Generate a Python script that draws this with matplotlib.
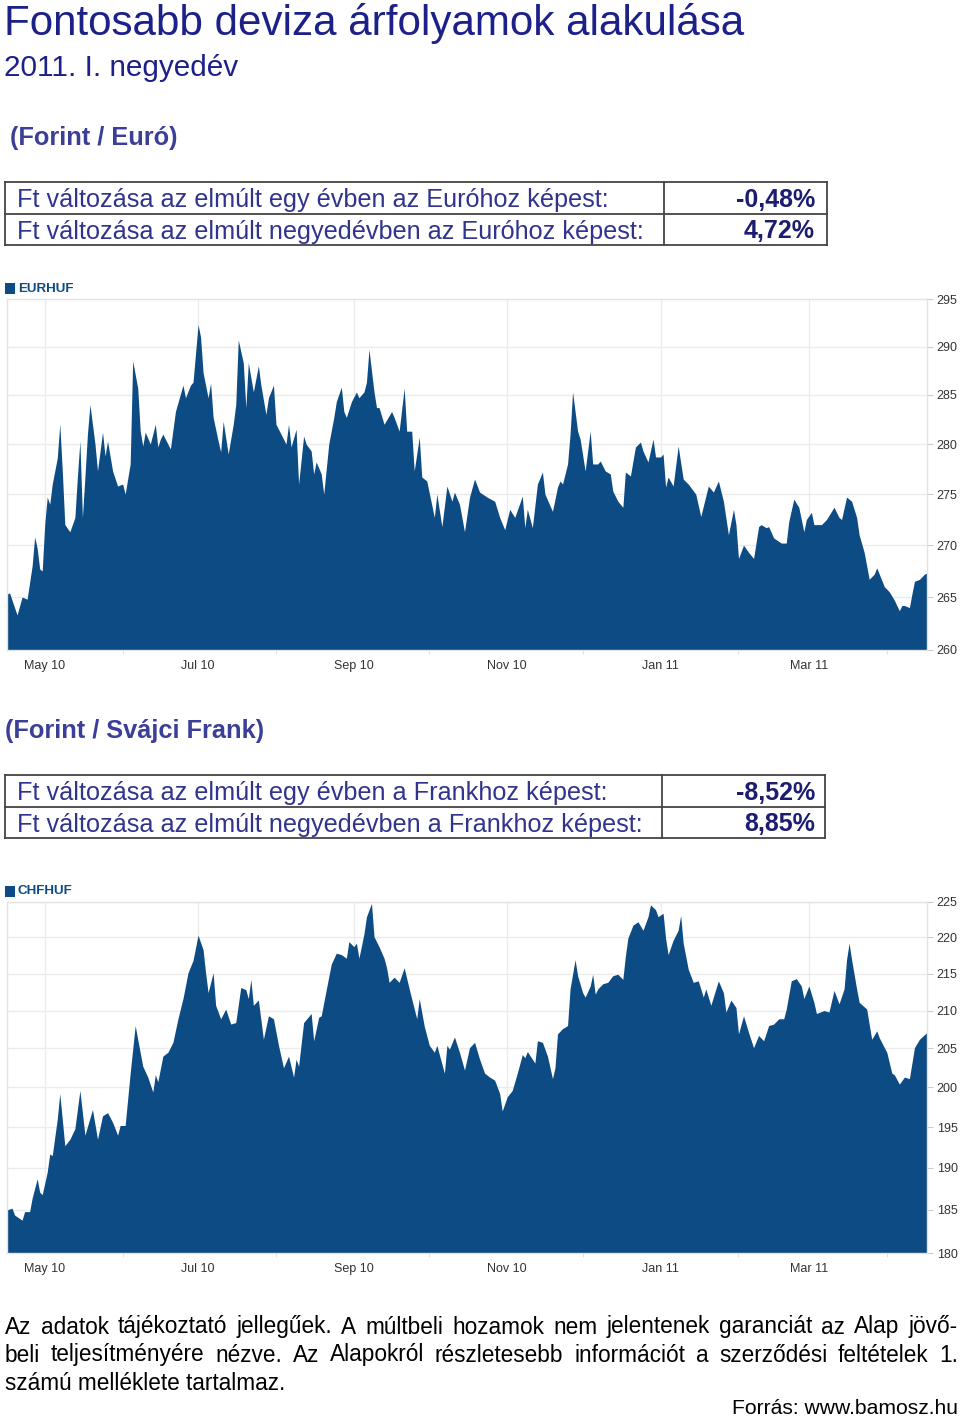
import numpy as np
import matplotlib
matplotlib.use("Agg")
import matplotlib.pyplot as plt
import matplotlib.dates as mdates
import matplotlib.ticker as mticker
from matplotlib.patches import Rectangle
from matplotlib.lines import Line2D

plt.rcParams['font.family'] = ['Liberation Sans', 'DejaVu Sans']

# ================= data =================
START = np.datetime64('2010-04-16')
SPAN_DAYS = 366

eur_days = [0, 1, 4, 6, 8, 10, 11, 12, 13, 14, 15, 16, 17, 18, 20, 21, 22, 23, 25, 27,
            28, 29, 30, 31, 32, 33, 35, 36, 38, 39, 40, 42, 44, 46, 47, 49, 50, 52, 53, 54,
            55, 57, 59, 60, 61, 62, 65, 67, 70, 71, 73, 74, 76, 77, 78, 80, 81, 82, 84, 85,
            86, 88, 90, 91, 92, 94, 95, 96, 98, 100, 101, 103, 104, 106, 107, 109, 111, 112, 113, 115,
            116, 118, 119, 121, 122, 123, 125, 126, 128, 130, 131, 133, 134, 135, 137, 139, 140, 142, 143, 144,
            146, 147, 148, 150, 153, 154, 156, 158, 159, 161, 162, 164, 165, 167, 170, 171, 173, 175, 177, 178,
            180, 182, 184, 186, 188, 191, 194, 196, 198, 200, 202, 205, 206, 207, 209, 211, 213, 214, 217, 219,
            220, 221, 223, 224, 225, 227, 228, 230, 232, 233, 235, 236, 238, 240, 241, 243, 245, 246, 248, 250,
            252, 253, 255, 257, 258, 260, 261, 262, 263, 265, 267, 269, 271, 274, 276, 278, 279, 281, 283, 285,
            287, 289, 290, 291, 293, 295, 297, 299, 300, 302, 303, 305, 308, 310, 311, 313, 315, 317, 318, 320,
            321, 324, 326, 329, 331, 332, 334, 336, 338, 339, 341, 343, 345, 346, 347, 349, 351, 353, 355, 356,
            357, 359, 360, 361, 363, 365, 366]
eur_vals = [265.3, 265.4, 263.3, 265.0, 264.8, 268.0, 270.8, 269.7, 267.7, 267.5, 272.0, 274.7, 274.0, 276.0, 278.6, 282.0, 277.3, 272.0, 271.3, 272.7,
            276.7, 280.3, 272.7, 276.7, 281.0, 284.0, 280.0, 277.3, 281.2, 278.8, 280.3, 277.3, 275.8, 276.0, 275.0, 278.0, 288.5, 285.7, 281.3, 279.8,
            281.2, 280.0, 282.0, 279.7, 280.5, 281.0, 279.5, 283.3, 286.0, 284.7, 286.0, 286.3, 292.3, 291.0, 287.3, 284.7, 286.2, 282.7, 280.3, 279.2,
            282.3, 279.0, 282.0, 284.0, 290.7, 288.3, 283.7, 288.3, 285.3, 288.0, 286.0, 283.0, 284.7, 286.0, 282.0, 281.0, 280.0, 282.0, 279.7, 281.5,
            276.0, 280.8, 280.0, 279.3, 277.0, 278.2, 277.0, 275.0, 280.0, 282.7, 284.3, 285.8, 283.3, 282.7, 284.3, 285.3, 284.7, 285.3, 286.3, 289.7,
            285.3, 283.7, 283.7, 282.0, 283.3, 282.7, 281.3, 285.7, 281.3, 281.3, 277.3, 280.7, 276.7, 276.3, 272.7, 275.0, 271.8, 275.8, 274.3, 275.2,
            274.0, 271.3, 274.7, 276.5, 275.2, 274.7, 274.3, 272.7, 271.5, 273.5, 272.7, 274.8, 271.7, 273.5, 271.7, 276.0, 277.2, 275.0, 273.3, 275.7,
            276.3, 276.0, 278.0, 281.0, 285.3, 281.3, 280.5, 277.3, 281.3, 278.0, 278.0, 278.3, 277.3, 277.0, 275.3, 274.3, 273.7, 277.2, 276.8, 279.7,
            280.2, 279.3, 278.2, 280.5, 278.7, 278.7, 279.0, 275.7, 276.7, 275.8, 279.8, 276.5, 276.0, 275.0, 272.8, 274.8, 275.8, 275.2, 276.3, 274.3,
            271.0, 273.5, 272.0, 268.7, 270.0, 269.3, 268.7, 271.8, 272.0, 271.7, 271.8, 270.7, 270.2, 270.2, 272.3, 274.5, 273.7, 271.3, 272.5, 273.2,
            272.0, 272.0, 272.5, 273.7, 272.7, 272.5, 274.7, 274.3, 272.7, 271.0, 269.3, 266.7, 267.2, 267.8, 267.2, 266.0, 265.5, 264.7, 263.7, 264.2,
            264.2, 264.0, 265.3, 266.5, 266.7, 267.2, 267.3]

chf_days = [0, 2, 3, 6, 7, 9, 10, 12, 13, 14, 16, 17, 18, 20, 21, 23, 25, 27, 29, 31,
            34, 36, 38, 40, 42, 44, 45, 47, 49, 51, 52, 54, 56, 58, 59, 60, 62, 64, 66, 68,
            70, 72, 74, 76, 78, 79, 80, 82, 83, 85, 87, 89, 91, 93, 95, 96, 97, 98, 100, 102,
            104, 106, 108, 110, 112, 114, 115, 116, 118, 121, 122, 124, 125, 127, 129, 131, 133, 135, 136, 138,
            139, 140, 142, 143, 145, 146, 148, 150, 151, 152, 154, 156, 158, 160, 163, 164, 166, 168, 170, 171,
            174, 175, 176, 178, 180, 182, 184, 186, 188, 190, 192, 194, 196, 197, 199, 201, 203, 205, 206, 207,
            210, 211, 213, 215, 217, 218, 219, 221, 223, 224, 226, 227, 229, 230, 232, 233, 234, 235, 237, 239,
            241, 243, 245, 246, 247, 249, 251, 253, 255, 256, 258, 259, 261, 262, 263, 265, 267, 268, 269, 271,
            273, 275, 277, 278, 280, 283, 285, 286, 288, 290, 291, 293, 295, 297, 299, 301, 303, 305, 307, 309,
            310, 312, 314, 316, 317, 319, 321, 322, 325, 327, 329, 331, 333, 334, 335, 336, 338, 339, 342, 344,
            346, 347, 350, 352, 353, 355, 357, 359, 361, 363, 366]
chf_vals = [185.0, 185.2, 184.4, 183.8, 184.8, 184.8, 186.4, 188.7, 187.1, 186.8, 189.5, 191.7, 191.5, 196.0, 199.2, 192.7, 193.5, 194.8, 199.6, 194.0,
            197.2, 193.5, 196.4, 196.8, 195.6, 194.0, 195.2, 195.2, 201.8, 208.0, 206.2, 202.7, 201.3, 199.4, 201.6, 200.7, 204.0, 204.5, 205.8, 208.9,
            211.6, 215.1, 216.8, 220.3, 218.3, 215.1, 212.4, 215.1, 210.7, 208.9, 210.2, 208.2, 208.4, 213.1, 212.8, 211.6, 214.2, 210.7, 211.4, 206.2,
            209.3, 208.9, 205.4, 202.5, 204.0, 201.3, 203.6, 202.7, 208.4, 209.6, 206.0, 209.1, 209.3, 212.8, 216.3, 217.8, 217.6, 217.1, 219.4, 218.7,
            219.2, 217.1, 220.5, 222.9, 224.8, 220.1, 218.7, 217.1, 215.8, 213.8, 214.5, 213.8, 215.8, 212.9, 208.9, 211.6, 207.9, 205.4, 204.5, 205.4,
            201.8, 205.4, 204.9, 206.5, 204.5, 202.2, 205.1, 205.8, 203.6, 201.8, 201.3, 200.9, 199.2, 197.0, 198.8, 199.6, 201.8, 204.2, 203.8, 204.6,
            203.1, 206.0, 205.8, 204.0, 201.1, 202.5, 206.9, 207.6, 208.0, 212.9, 216.9, 214.7, 212.4, 211.8, 213.3, 214.9, 212.2, 212.9, 213.6, 213.8,
            214.7, 214.9, 214.2, 217.4, 219.9, 221.7, 222.2, 221.0, 222.9, 224.6, 223.9, 222.9, 223.4, 219.9, 217.6, 219.6, 221.0, 223.1, 219.2, 215.6,
            213.8, 214.0, 211.8, 212.9, 210.7, 214.0, 212.4, 209.8, 211.4, 210.4, 206.9, 209.3, 207.1, 205.1, 206.7, 206.0, 208.0, 208.2, 208.9, 208.9,
            210.2, 214.0, 214.3, 213.3, 211.6, 213.3, 211.1, 209.6, 210.0, 209.8, 212.7, 210.9, 212.9, 216.9, 219.2, 216.9, 212.9, 211.1, 210.2, 206.2,
            207.3, 206.4, 204.5, 201.8, 201.6, 200.4, 201.3, 201.1, 205.1, 206.2, 207.1]

eur_ticks = [260, 265, 270, 275, 280, 285, 290, 295]
chf_ticks = [180, 185, 190, 195, 200, 205, 210, 215, 220, 225]

eur_rows = ["Ft változása az elmúlt egy évben az Euróhoz képest:",
            "Ft változása az elmúlt negyedévben az Euróhoz képest:"]
eur_changes = ["-0,48%", "4,72%"]
chf_rows = ["Ft változása az elmúlt egy évben a Frankhoz képest:",
            "Ft változása az elmúlt negyedévben a Frankhoz képest:"]
chf_changes = ["-8,52%", "8,85%"]

footer_lines = ["Az adatok tájékoztató jellegűek. A múltbeli hozamok nem jelentenek garanciát az Alap jövő-",
                "beli teljesítményére nézve. Az Alapokról részletesebb információt a szerződési feltételek 1.",
                "számú melléklete tartalmaz."]

# ================= styles =================
W, H = 960, 1417
NAVY = '#1c2089'
HEAD = '#3c3f98'
ROWTXT = '#30348f'
VALTXT = '#1c1d70'
BLUE = '#0c4b83'
GRID = '#ebebeb'

fig = plt.figure(figsize=(W / 100, H / 100), dpi=100)


def fx(x):
    return x / W


def fy(y):
    return 1 - y / H


def table(top, xmid, xright, rows, changes):
    rh = 31.5
    bottom = top + 2 * rh
    for y in (top, top + rh, bottom):
        fig.add_artist(Line2D([fx(5), fx(xright)], [fy(y), fy(y)], color='#444444', lw=1.3))
    for x in (5, xmid, xright):
        fig.add_artist(Line2D([fx(x), fx(x)], [fy(top), fy(bottom)], color='#444444', lw=1.3))
    for i, (label, val) in enumerate(zip(rows, changes)):
        yc = top + rh * (i + 0.5)
        fig.text(fx(17), fy(yc + 2.5), label, fontsize=18.2, color=ROWTXT, va='center', ha='left')
        fig.text(fx(815), fy(yc + 2), val, fontsize=18, color=VALTXT, va='center', ha='right',
                 fontweight='bold')


def chart(top, days, vals, ticks, name):
    ax = fig.add_axes([fx(7), fy(top + 351), 920 / W, 351 / H])
    dates = START + np.array(days) * np.timedelta64(1, 'D')
    ax.set_yscale('log')
    ax.fill_between(dates, vals, ticks[0] * 0.9, color=BLUE, lw=0, zorder=2)
    ax.set_ylim(ticks[0], ticks[-1])
    ax.set_xlim(START, START + np.timedelta64(SPAN_DAYS, 'D'))
    ax.set_axisbelow(True)

    ax.yaxis.tick_right()
    ax.yaxis.set_minor_locator(mticker.NullLocator())
    ax.set_yticks(ticks, labels=[str(t) for t in ticks])
    ax.yaxis.set_minor_formatter(mticker.NullFormatter())

    ax.xaxis.set_major_locator(mdates.MonthLocator(bymonth=[1, 3, 5, 7, 9, 11]))
    ax.xaxis.set_minor_locator(mdates.MonthLocator(bymonth=[2, 4, 6, 8, 10, 12]))
    ax.xaxis.set_major_formatter(mdates.DateFormatter('%b %y'))

    ax.grid(True, which='major', color=GRID, lw=1)
    ax.tick_params(axis='y', which='major', length=4, color='#cccccc', labelcolor='#333333',
                   labelsize=9, pad=3)
    ax.tick_params(axis='x', which='major', length=0, labelcolor='#333333', labelsize=9, pad=7)
    ax.tick_params(axis='x', which='minor', length=3, color='#dddddd')
    for s in ax.spines.values():
        s.set_color('#e3e3e3')
        s.set_linewidth(1)

    # kis jelmagyarázat a bal felső sarokban
    fig.add_artist(Rectangle((fx(5), fy(top - 5)), 10 / W, 11 / H, transform=fig.transFigure,
                             color=BLUE, lw=0))
    fig.text(fx(18), fy(top - 10.5), name, fontsize=9.6, color=BLUE, fontweight='bold',
             va='center', ha='left')
    return ax


def justified(text, y, size, x0=5, x1=958):
    words = text.split()
    r = fig.canvas.get_renderer()
    widths = []
    for w in words:
        t = fig.text(0, 0, w, fontsize=size)
        widths.append(t.get_window_extent(r).width)
        t.remove()
    gap = (x1 - x0 - sum(widths)) / (len(words) - 1)
    x = x0
    for w, wd in zip(words, widths):
        fig.text(fx(x), fy(y), w, fontsize=size, color='black', va='center', ha='left')
        x += wd + gap


# ================= header =================
fig.text(fx(4), fy(24), "Fontosabb deviza árfolyamok alakulása", fontsize=30.3, color=NAVY,
         va='center', ha='left')
fig.text(fx(4), fy(68), "2011. I. negyedév", fontsize=21.4, color=NAVY, va='center', ha='left')

# ================= EUR =================
fig.text(fx(10), fy(138), "(Forint / Euró)", fontsize=18.3, color=HEAD, fontweight='bold',
         va='center', ha='left')
table(182, 664, 827, eur_rows, eur_changes)
chart(299, eur_days, eur_vals, eur_ticks, "EURHUF")

# ================= CHF =================
fig.text(fx(5), fy(731), "(Forint / Svájci Frank)", fontsize=18.3, color=HEAD, fontweight='bold',
         va='center', ha='left')
table(775, 662, 825, chf_rows, chf_changes)
chart(902, chf_days, chf_vals, chf_ticks, "CHFHUF")

# ================= footer =================
justified(footer_lines[0], 1327, 16.3)
justified(footer_lines[1], 1355, 16.3)
fig.text(fx(5), fy(1383), footer_lines[2], fontsize=16.3, color='black', va='center', ha='left')
fig.text(fx(958), fy(1408), "Forrás: www.bamosz.hu", fontsize=15.2, color='black',
         va='center', ha='right')

fig.savefig('out.png', dpi=100)
